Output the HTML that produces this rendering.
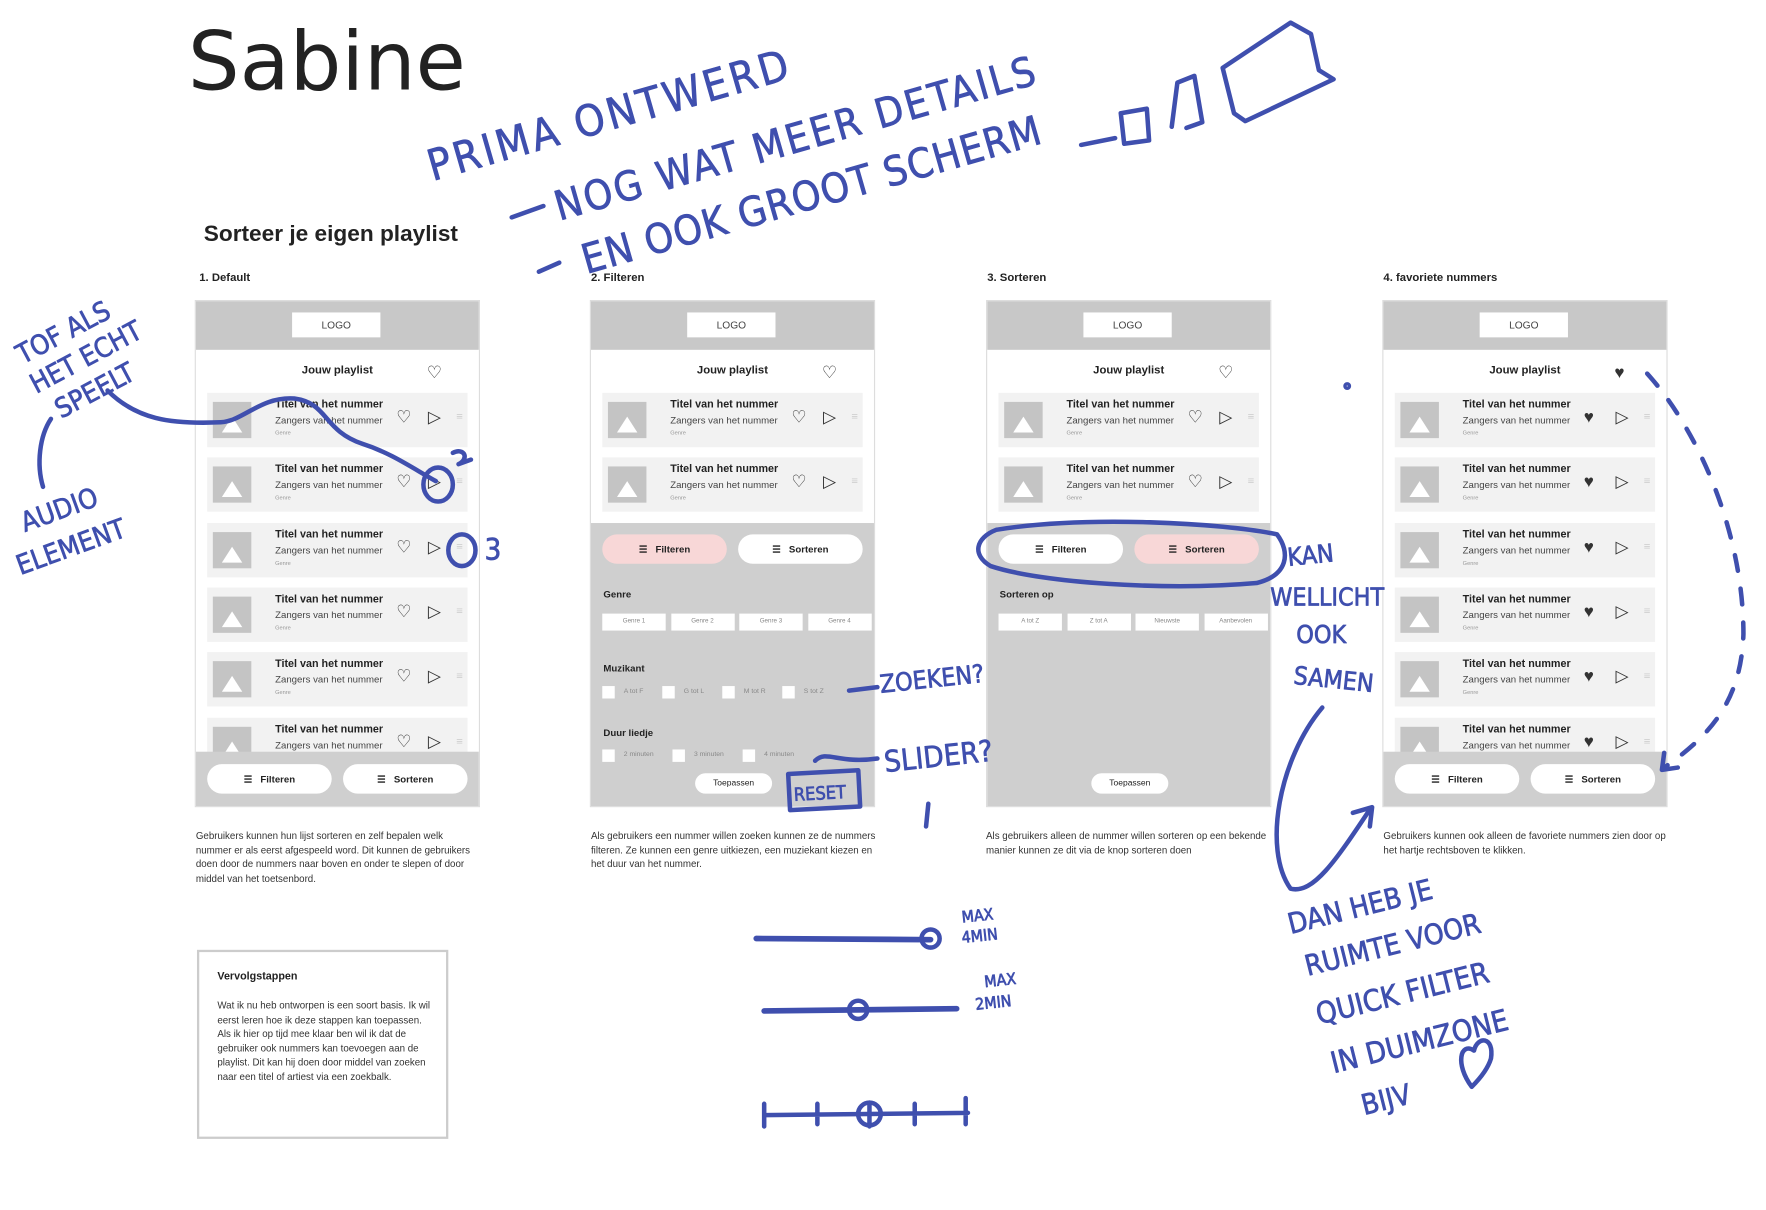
<!DOCTYPE html>
<html><head><meta charset="utf-8">
<style>
html,body{margin:0;padding:0;background:#fff;width:1766px;height:1210px;overflow:hidden}
#s{position:absolute;left:0;top:0;width:1560px;height:1069px;transform:scale(1.1321);transform-origin:0 0;font-family:"Liberation Sans",sans-serif;color:#222}
.a{position:absolute}
.ph{position:absolute;width:250px;height:446px;top:266px;background:#fff;box-shadow:0 0 0 1px #ddd;overflow:hidden}
.hd{position:absolute;left:0;top:0;width:250px;height:43px;background:#c8c8c8}
.logo{position:absolute;left:85px;top:10px;width:78px;height:22px;background:#fff;font-size:9px;text-align:center;line-height:22px;color:#444}
.tt{position:absolute;left:0;width:250px;top:56px;text-align:center;font-size:10px;font-weight:bold}
.row{position:absolute;left:10px;width:230px;height:48px;background:#f2f2f2}
.img{position:absolute;left:5px;top:8px;width:34px;height:32px;background:#c4c4c4}
.img:after{content:"";position:absolute;left:8px;top:13px;border-left:9px solid transparent;border-right:9px solid transparent;border-bottom:14px solid #fff}
.r1{position:absolute;left:60px;top:5px;font-size:9.5px;font-weight:bold}
.r2{position:absolute;left:60px;top:19px;font-size:8.5px;color:#444}
.r3{position:absolute;left:60px;top:33px;font-size:5px;color:#999}
.ic{position:absolute;top:14px;font-size:15px;line-height:15px;color:#333}
.bar{position:absolute;left:0;top:398px;width:250px;height:48px;background:#cfcfcf}
.pill{position:absolute;width:110px;height:26px;border-radius:13px;background:#fff;font-size:8.5px;font-weight:bold;line-height:26px;text-align:center}
.pk{background:#f8d7d7}
.panel{position:absolute;left:0;top:196px;width:250px;height:250px;background:#cfcfcf}
.lb{position:absolute;left:11px;font-size:8.5px;font-weight:bold}
.chip{position:absolute;height:15px;width:56px;background:#fff;font-size:5.5px;color:#888;text-align:center;line-height:15px}
.cb{position:absolute;width:11px;height:11px;background:#fff}
.ct{position:absolute;font-size:6px;color:#888}
.desc{position:absolute;top:732px;width:252px;font-size:8.6px;line-height:12.5px;color:#333}
.h{font-family:"DejaVu Sans Condensed","DejaVu Sans",sans-serif;font-weight:normal;fill:#3f4fae;stroke:#3f4fae;stroke-width:0.6}
</style></head><body><div id="s">
<div class="a" style="left:166px;top:12px;font-size:72px;font-family:'DejaVu Sans',sans-serif;color:#222">Sabine</div>
<div class="a" style="left:180px;top:196px;font-size:20px;font-weight:bold">Sorteer je eigen playlist</div>
<div class="a" style="left:176px;top:240px;font-size:10px;font-weight:bold">1. Default</div>
<div class="a" style="left:522px;top:240px;font-size:10px;font-weight:bold">2. Filteren</div>
<div class="a" style="left:872px;top:240px;font-size:10px;font-weight:bold">3. Sorteren</div>
<div class="a" style="left:1222px;top:240px;font-size:10px;font-weight:bold">4. favoriete nummers</div>
<div id="phones"></div>
<div class="desc" style="left:173px">Gebruikers kunnen hun lijst sorteren en zelf bepalen welk nummer er als eerst afgespeeld word. Dit kunnen de gebruikers doen door de nummers naar boven en onder te slepen of door middel van het toetsenbord.</div>
<div class="desc" style="left:522px">Als gebruikers een nummer willen zoeken kunnen ze de nummers filteren. Ze kunnen een genre uitkiezen, een muziekant kiezen en het duur van het nummer.</div>
<div class="desc" style="left:871px">Als gebruikers alleen de nummer willen sorteren op een bekende manier kunnen ze dit via de knop sorteren doen</div>
<div class="desc" style="left:1222px">Gebruikers kunnen ook alleen de favoriete nummers zien door op het hartje rechtsboven te klikken.</div>
<div class="a" style="left:174px;top:839px;width:218px;height:163px;border:2px solid #ccc;padding:0">
<div style="position:absolute;left:16px;top:16px;font-size:9.5px;font-weight:bold">Vervolgstappen</div>
<div style="position:absolute;left:16px;top:41px;width:192px;font-size:8.6px;line-height:12.6px;color:#333">Wat ik nu heb ontworpen is een soort basis. Ik wil eerst leren hoe ik deze stappen kan toepassen. Als ik hier op tijd mee klaar ben wil ik dat de gebruiker ook nummers kan toevoegen aan de playlist. Dit kan hij doen door middel van zoeken naar een titel of artiest via een zoekbalk.</div></div>
<svg class="a" style="left:0;top:0" width="1560" height="1069" viewBox="0 0 1560 1069" fill="none" stroke="#3f4fae" stroke-width="4" stroke-linecap="round" stroke-linejoin="round">
<text class="h" font-size="38" transform="translate(382,160) rotate(-16)" textLength="330">PRIMA ONTWERD</text>
<text class="h" font-size="36" transform="translate(494,195) rotate(-16)" textLength="440">NOG WAT MEER DETAILS</text>
<text class="h" font-size="36" transform="translate(518,242) rotate(-16)" textLength="420">EN OOK GROOT SCHERM</text>
<path d="M452 192 L480 182 M476 240 L494 232 M955 128 L985 122"/>
<path d="M990 100 L1013 96 L1015 124 L993 127 Z M1035 112 L1040 73 L1055 67 L1062 108 L1048 113"/>
<path d="M1080 60 L1140 20 L1158 30 L1165 62 L1178 70 L1100 107 L1090 100 Z"/>
<text class="h" font-size="24" transform="translate(20,322) rotate(-28)">TOF ALS</text>
<text class="h" font-size="24" transform="translate(32,348) rotate(-28)">HET ECHT</text>
<text class="h" font-size="24" transform="translate(54,370) rotate(-28)">SPEELT</text>
<path d="M95 345 C120 370,150 375,195 373 C215 372,230 350,260 352 C290 356,285 380,320 392 C345 400,362 412,385 425"/>
<path d="M45 370 C35 385,32 410,38 430"/>
<text class="h" font-size="24" transform="translate(22,470) rotate(-20)">AUDIO</text>
<text class="h" font-size="24" transform="translate(18,508) rotate(-20)">ELEMENT</text>
<ellipse cx="387" cy="428" rx="13" ry="15"/><path d="M400 400 C410 395,415 405,405 410 L416 406"/>
<ellipse cx="408" cy="486" rx="12" ry="14"/><text class="h" font-size="26" x="428" y="494">3</text>
<path d="M880 468 C960 455,1080 462,1128 472 C1140 488,1138 508,1110 515 C1030 522,920 515,875 500 C858 490,862 475,880 468"/>
<text class="h" font-size="22" x="1138" y="500" transform="rotate(-6,1138,500)">KAN</text>
<text class="h" font-size="22" x="1122" y="535">WELLICHT</text>
<text class="h" font-size="22" x="1145" y="568">OOK</text>
<text class="h" font-size="22" x="1142" y="604" transform="rotate(6,1142,604)">SAMEN</text>
<text class="h" font-size="22" transform="translate(778,612) rotate(-6)">ZOEKEN?</text>
<path d="M750 610 L775 607"/>
<text class="h" font-size="26" transform="translate(782,682) rotate(-6)">SLIDER?</text>
<path d="M720 672 C730 662,740 675,775 670 M820 710 L818 730"/>
<rect x="697" y="682" width="62" height="32" transform="rotate(-3,728,698)"/>
<text class="h" font-size="16" x="701" y="706" transform="rotate(-3,728,698)">RESET</text>
<path d="M1168 625 C1130 670,1115 750,1140 785 C1160 790,1180 760,1210 715 M1195 718 L1212 713 L1210 730"/>
<text class="h" font-size="25" transform="translate(1140,825) rotate(-14)">DAN HEB JE</text>
<text class="h" font-size="25" transform="translate(1155,862) rotate(-14)">RUIMTE VOOR</text>
<text class="h" font-size="26" transform="translate(1165,905) rotate(-14)">QUICK FILTER</text>
<text class="h" font-size="26" transform="translate(1178,948) rotate(-14)">IN DUIMZONE</text>
<text class="h" font-size="25" transform="translate(1205,985) rotate(-14)">BIJV</text>
<path d="M1300 960 C1285 940,1290 920,1302 928 C1305 915,1320 915,1317 935 C1314 945,1305 955,1300 960"/>
<path d="M1455 330 C1500 380,1540 470,1540 560 C1538 620,1510 650,1470 678" stroke-dasharray="14 16"/>
<path d="M1470 665 L1468 680 L1482 678"/>
<circle cx="1190" cy="341" r="1.5"/>
<path d="M668 829 L822 830" stroke-width="5"/><circle cx="822" cy="829" r="8"/>
<text class="h" font-size="14" x="850" y="815" transform="rotate(-6,850,815)">MAX</text>
<text class="h" font-size="14" x="850" y="833" transform="rotate(-6,850,833)">4MIN</text>
<path d="M675 893 L845 891" stroke-width="5"/><circle cx="758" cy="892" r="8"/>
<text class="h" font-size="14" x="870" y="872" transform="rotate(-6,870,872)">MAX</text>
<text class="h" font-size="14" x="862" y="892" transform="rotate(-6,862,892)">2MIN</text>
<path d="M675 985 L855 983 M675 975 L675 995 M722 975 L722 993 M808 975 L808 993 M853 970 L853 993"/>
<circle cx="768" cy="984" r="10"/><path d="M768 974 L768 995"/>
</svg>
</div>
<script>
var X=[173,522,872,1222],h='';
var rows=[347,404,462,519,576,634];
X.forEach(function(x,p){
 h+='<div class="ph" style="left:'+x+'px"><div class="hd"><div class="logo">LOGO</div></div>';
 h+='<div class="tt">Jouw playlist</div><div class="ic" style="left:204px;top:56px">'+(p==3?'♥':'♡')+'</div>';
 var n=(p==1||p==2)?2:6;
 for(var i=0;i<n;i++){var y=rows[i]-266;
  h+='<div class="row" style="top:'+y+'px"><div class="img"></div><div class="r1">Titel van het nummer</div><div class="r2">Zangers van het nummer</div><div class="r3">Genre</div><div class="ic" style="left:167px">'+(p==3?'♥':'♡')+'</div><div class="ic" style="left:195px">▷</div><div class="ic" style="left:220px;color:#ccc;font-size:10px">≡</div></div>';}
 if(p==0||p==3){h+='<div class="bar"><div class="pill" style="left:10px;top:11px">☰&nbsp;&nbsp; Filteren</div><div class="pill" style="left:130px;top:11px">☰&nbsp;&nbsp; Sorteren</div></div>';}
 else{
  h+='<div class="panel"><div class="pill '+(p==1?'pk':'')+'" style="left:10px;top:10px">☰&nbsp;&nbsp; Filteren</div><div class="pill '+(p==2?'pk':'')+'" style="left:130px;top:10px">☰&nbsp;&nbsp; Sorteren</div>';
  if(p==1){
   h+='<div class="lb" style="top:58px">Genre</div>';
   ['Genre 1','Genre 2','Genre 3','Genre 4'].forEach(function(t,i){h+='<div class="chip" style="left:'+(10+i*60.5)+'px;top:80px">'+t+'</div>'});
   h+='<div class="lb" style="top:123px">Muzikant</div>';
   ['A tot F','G tot L','M tot R','S tot Z'].forEach(function(t,i){var l=10+i*53;h+='<div class="cb" style="left:'+l+'px;top:144px"></div><div class="ct" style="left:'+(l+19)+'px;top:146px">'+t+'</div>'});
   h+='<div class="lb" style="top:180px">Duur liedje</div>';
   ['2 minuten','3 minuten','4 minuten'].forEach(function(t,i){var l=10+i*62;h+='<div class="cb" style="left:'+l+'px;top:200px"></div><div class="ct" style="left:'+(l+19)+'px;top:202px">'+t+'</div>'});
  } else {
   h+='<div class="lb" style="top:58px">Sorteren op</div>';
   ['A tot Z','Z tot A','Nieuwste','Aanbevolen'].forEach(function(t,i){h+='<div class="chip" style="left:'+(10+i*60.5)+'px;top:80px">'+t+'</div>'});
  }
  h+='<div class="pill" style="left:92px;top:221px;width:68px;height:18px;line-height:18px;font-weight:normal;font-size:7.5px">Toepassen</div></div>';
 }
 h+='</div>';
});
document.getElementById('phones').innerHTML=h;
</script>
</body></html>
